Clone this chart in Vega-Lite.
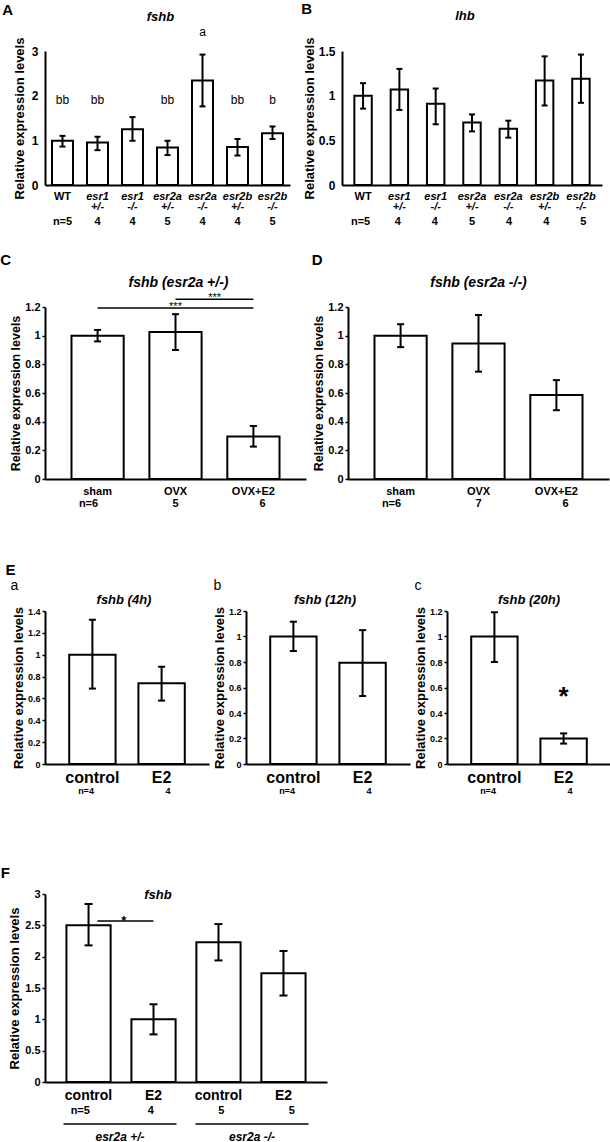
{
"$schema": "https://vega.github.io/schema/vega-lite/v6.json",
"background": "white",
"padding": {"left": 0, "top": 2, "right": 0, "bottom": 0},
"config": {
  "font": "Liberation Sans",
  "view": {"stroke": null},
  "axis": {"grid": false, "domainColor": "black", "domainWidth": 2, "tickColor": "black", "tickWidth": 1.5, "labelColor": "black", "titleColor": "black", "labelFontWeight": "bold", "titleFontWeight": "bold", "labelFont": "Liberation Sans", "titleFont": "Liberation Sans", "labelOverlap": false},
  "axisY": {"labelOverlap": false},
  "axisQuantitative": {"labelOverlap": false},
  "title": {"color": "black", "font": "Liberation Sans"},
  "text": {"color": "black", "fill": "black", "font": "Liberation Sans"}
},
"datasets": {
  "A": [
    {"g": "WT", "mean": 0.99, "lo": 0.86, "hi": 1.10, "n": "n=5", "sig": "bb"},
    {"g": "esr1|+/-", "mean": 0.95, "lo": 0.78, "hi": 1.08, "n": "4", "sig": "bb"},
    {"g": "esr1|-/-", "mean": 1.25, "lo": 0.99, "hi": 1.52, "n": "4", "sig": ""},
    {"g": "esr2a|+/-", "mean": 0.84, "lo": 0.67, "hi": 0.99, "n": "5", "sig": "bb"},
    {"g": "esr2a|-/-", "mean": 2.34, "lo": 1.76, "hi": 2.92, "n": "4", "sig": "a"},
    {"g": "esr2b|+/-", "mean": 0.85, "lo": 0.66, "hi": 1.03, "n": "4", "sig": "bb"},
    {"g": "esr2b|-/-", "mean": 1.16, "lo": 1.03, "hi": 1.31, "n": "5", "sig": "b"}
  ],
  "B": [
    {"g": "WT", "mean": 1.0, "lo": 0.855, "hi": 1.14, "n": "n=5"},
    {"g": "esr1|+/-", "mean": 1.07, "lo": 0.84, "hi": 1.30, "n": "4"},
    {"g": "esr1|-/-", "mean": 0.91, "lo": 0.68, "hi": 1.08, "n": "4"},
    {"g": "esr2a|+/-", "mean": 0.70, "lo": 0.60, "hi": 0.79, "n": "5"},
    {"g": "esr2a|-/-", "mean": 0.63, "lo": 0.53, "hi": 0.72, "n": "4"},
    {"g": "esr2b|+/-", "mean": 1.17, "lo": 0.89, "hi": 1.44, "n": "4"},
    {"g": "esr2b|-/-", "mean": 1.19, "lo": 0.92, "hi": 1.46, "n": "5"}
  ],
  "C": [
    {"g": "sham", "mean": 1.0, "lo": 0.96, "hi": 1.04, "n": "n=6"},
    {"g": "OVX", "mean": 1.026, "lo": 0.90, "hi": 1.15, "n": "5"},
    {"g": "OVX+E2", "mean": 0.296, "lo": 0.226, "hi": 0.37, "n": "6"}
  ],
  "D": [
    {"g": "sham", "mean": 1.0, "lo": 0.92, "hi": 1.08, "n": "n=6"},
    {"g": "OVX", "mean": 0.946, "lo": 0.749, "hi": 1.144, "n": "7"},
    {"g": "OVX+E2", "mean": 0.586, "lo": 0.48, "hi": 0.69, "n": "6"}
  ],
  "Ea": [
    {"g": "control", "mean": 1.0, "lo": 0.69, "hi": 1.32, "n": "n=4"},
    {"g": "E2", "mean": 0.74, "lo": 0.58, "hi": 0.89, "n": "4"}
  ],
  "Eb": [
    {"g": "control", "mean": 1.0, "lo": 0.886, "hi": 1.116, "n": "n=4"},
    {"g": "E2", "mean": 0.794, "lo": 0.533, "hi": 1.05, "n": "4"}
  ],
  "Ec": [
    {"g": "control", "mean": 1.0, "lo": 0.80, "hi": 1.19, "n": "n=4"},
    {"g": "E2", "mean": 0.2, "lo": 0.16, "hi": 0.24, "n": "4"}
  ],
  "F": [
    {"g": "control (+/-)", "mean": 2.50, "lo": 2.18, "hi": 2.84, "n": "n=5"},
    {"g": "E2 (+/-)", "mean": 1.0, "lo": 0.76, "hi": 1.24, "n": "4"},
    {"g": "control (-/-)", "mean": 2.23, "lo": 1.94, "hi": 2.52, "n": "5"},
    {"g": "E2 (-/-)", "mean": 1.735, "lo": 1.38, "hi": 2.09, "n": "5"}
  ],
  "Fgroups": [
    {"grp": "esr2a +/-"},
    {"grp": "esr2a -/-"}
  ]
},
"spacing": 25,
"vconcat": [
  {
    "spacing": 11,
    "hconcat": [
      {
        "title": {"text": "A", "anchor": "start", "frame": "bounds", "fontSize": 15, "fontWeight": "bold", "offset": -7, "dx": -11},
        "bounds": "flush",
        "spacing": 31,
        "vconcat": [
          {
            "width": 245, "height": 134,
            "title": {"text": "fshb", "fontStyle": "italic", "fontWeight": "bold", "fontSize": 13, "frame": "group", "dx": -7, "offset": 2},
            "data": {"name": "A"},
            "encoding": {"x": {"field": "g", "type": "nominal", "sort": null,
              "scale": {"domain": ["WT", "esr1|+/-", "esr1|-/-", "esr2a|+/-", "esr2a|-/-", "esr2b|+/-", "esr2b|-/-"], "paddingInner": 0.4, "paddingOuter": 0.2},
              "axis": {"title": null, "labelAngle": 0, "ticks": false, "labelPadding": 5, "labelFontSize": 11, "labelLineHeight": 10, "labelExpr": "split(datum.value, '|')",
                "labelFontStyle": {"condition": {"test": "datum.value == 'WT'", "value": "normal"}, "value": "italic"}}}},
            "layer": [
              {"mark": {"type": "bar", "fill": "white", "stroke": "black", "strokeWidth": 2},
               "encoding": {"y": {"field": "mean", "type": "quantitative", "scale": {"domain": [0, 3], "nice": false},
                 "axis": {"title": "Relative expression levels", "values": [0, 1, 2, 3], "format": "~g", "labelOverlap": false, "ticks": false, "labelPadding": 7, "labelFontSize": 12, "titleFontSize": 13, "titlePadding": 5}}}},
              {"mark": {"type": "rule", "color": "black", "strokeWidth": 2},
               "encoding": {"y": {"field": "lo", "type": "quantitative", "axis": {"title": "Relative expression levels", "values": [0, 1, 2, 3], "format": "~g", "labelOverlap": false, "ticks": false, "labelPadding": 7, "labelFontSize": 12, "titleFontSize": 13, "titlePadding": 5}}, "y2": {"field": "hi"}}},
              {"mark": {"type": "tick", "orient": "horizontal", "color": "black", "opacity": 1, "thickness": 2, "size": 6},
               "encoding": {"y": {"field": "lo", "type": "quantitative", "axis": {"title": "Relative expression levels", "values": [0, 1, 2, 3], "format": "~g", "labelOverlap": false, "ticks": false, "labelPadding": 7, "labelFontSize": 12, "titleFontSize": 13, "titlePadding": 5}}}},
              {"mark": {"type": "tick", "orient": "horizontal", "color": "black", "opacity": 1, "thickness": 2, "size": 6},
               "encoding": {"y": {"field": "hi", "type": "quantitative", "axis": {"title": "Relative expression levels", "values": [0, 1, 2, 3], "format": "~g", "labelOverlap": false, "ticks": false, "labelPadding": 7, "labelFontSize": 12, "titleFontSize": 13, "titlePadding": 5}}}},
              {"transform": [{"filter": "datum.sig != '' && datum.sig != 'a'"}],
               "mark": {"type": "text", "fontSize": 12, "color": "black"},
               "encoding": {"y": {"datum": 1.91, "axis": {"title": "Relative expression levels", "values": [0, 1, 2, 3], "format": "~g", "labelOverlap": false, "ticks": false, "labelPadding": 7, "labelFontSize": 12, "titleFontSize": 13, "titlePadding": 5}}, "text": {"field": "sig"}}},
              {"transform": [{"filter": "datum.sig == 'a'"}],
               "mark": {"type": "text", "fontSize": 12, "color": "black"},
               "encoding": {"y": {"datum": 3.42, "axis": {"title": "Relative expression levels", "values": [0, 1, 2, 3], "format": "~g", "labelOverlap": false, "ticks": false, "labelPadding": 7, "labelFontSize": 12, "titleFontSize": 13, "titlePadding": 5}}, "text": {"field": "sig"}}}
            ]
          },
          {
            "width": 245, "height": 12,
            "data": {"name": "A"},
            "mark": {"type": "text", "fontSize": 11, "fontWeight": "bold", "color": "black"},
            "encoding": {"x": {"field": "g", "type": "nominal", "sort": null,
              "scale": {"domain": ["WT", "esr1|+/-", "esr1|-/-", "esr2a|+/-", "esr2a|-/-", "esr2b|+/-", "esr2b|-/-"], "paddingInner": 0.4, "paddingOuter": 0.2}, "axis": null},
              "text": {"field": "n"}}
          }
        ]
      },
      {
        "title": {"text": "B", "anchor": "start", "frame": "bounds", "fontSize": 15, "fontWeight": "bold", "offset": -7, "dx": -2},
        "bounds": "flush",
        "spacing": 31,
        "vconcat": [
          {
            "width": 260, "height": 134,
            "title": {"text": "lhb", "fontStyle": "italic", "fontWeight": "bold", "fontSize": 13, "frame": "group", "dx": -7, "offset": 14},
            "data": {"name": "B"},
            "encoding": {"x": {"field": "g", "type": "nominal", "sort": null,
              "scale": {"domain": ["WT", "esr1|+/-", "esr1|-/-", "esr2a|+/-", "esr2a|-/-", "esr2b|+/-", "esr2b|-/-"], "paddingInner": 0.52, "paddingOuter": 0.34},
              "axis": {"title": null, "labelAngle": 0, "ticks": false, "labelPadding": 5, "labelFontSize": 11, "labelLineHeight": 10, "labelExpr": "split(datum.value, '|')",
                "labelFontStyle": {"condition": {"test": "datum.value == 'WT'", "value": "normal"}, "value": "italic"}}}},
            "layer": [
              {"mark": {"type": "bar", "fill": "white", "stroke": "black", "strokeWidth": 2},
               "encoding": {"y": {"field": "mean", "type": "quantitative", "scale": {"domain": [0, 1.5], "nice": false},
                 "axis": {"title": "Relative expression levels", "values": [0, 0.5, 1, 1.5], "format": "~g", "labelOverlap": false, "ticks": false, "labelPadding": 7, "labelFontSize": 12, "titleFontSize": 13, "titlePadding": 2}}}},
              {"mark": {"type": "rule", "color": "black", "strokeWidth": 2},
               "encoding": {"y": {"field": "lo", "type": "quantitative", "axis": {"title": "Relative expression levels", "values": [0, 0.5, 1, 1.5], "format": "~g", "labelOverlap": false, "ticks": false, "labelPadding": 7, "labelFontSize": 12, "titleFontSize": 13, "titlePadding": 2}}, "y2": {"field": "hi"}}},
              {"mark": {"type": "tick", "orient": "horizontal", "color": "black", "opacity": 1, "thickness": 2, "size": 6},
               "encoding": {"y": {"field": "lo", "type": "quantitative", "axis": {"title": "Relative expression levels", "values": [0, 0.5, 1, 1.5], "format": "~g", "labelOverlap": false, "ticks": false, "labelPadding": 7, "labelFontSize": 12, "titleFontSize": 13, "titlePadding": 2}}}},
              {"mark": {"type": "tick", "orient": "horizontal", "color": "black", "opacity": 1, "thickness": 2, "size": 6},
               "encoding": {"y": {"field": "hi", "type": "quantitative", "axis": {"title": "Relative expression levels", "values": [0, 0.5, 1, 1.5], "format": "~g", "labelOverlap": false, "ticks": false, "labelPadding": 7, "labelFontSize": 12, "titleFontSize": 13, "titlePadding": 2}}}}
            ]
          },
          {
            "width": 260, "height": 12,
            "data": {"name": "B"},
            "mark": {"type": "text", "fontSize": 11, "fontWeight": "bold", "color": "black"},
            "encoding": {"x": {"field": "g", "type": "nominal", "sort": null,
              "scale": {"domain": ["WT", "esr1|+/-", "esr1|-/-", "esr2a|+/-", "esr2a|-/-", "esr2b|+/-", "esr2b|-/-"], "paddingInner": 0.52, "paddingOuter": 0.34}, "axis": null},
              "text": {"field": "n"}}
          }
        ]
      }
    ]
  },
  {
    "spacing": 52,
    "vconcat": [
      {
        "spacing": 5,
        "hconcat": [
          {
            "title": {"text": "C", "anchor": "start", "frame": "bounds", "fontSize": 15, "fontWeight": "bold", "offset": 8, "dx": -9.5},
            "bounds": "flush",
            "spacing": 19,
            "vconcat": [
              {
                "width": 261, "height": 172,
                "title": {"text": "fshb  (esr2a +/-)", "fontStyle": "italic", "fontWeight": "bold", "fontSize": 14, "frame": "group", "dx": 3, "offset": 2},
                "data": {"name": "C"},
                "encoding": {"x": {"field": "g", "type": "nominal", "sort": null,
                  "scale": {"domain": ["sham", "OVX", "OVX+E2"], "paddingInner": 0.33, "paddingOuter": 0.34},
                  "axis": {"title": null, "labelAngle": 0, "ticks": false, "labelPadding": 6, "labelFontSize": 11}}},
                "layer": [
                  {"mark": {"type": "bar", "fill": "white", "stroke": "black", "strokeWidth": 2},
                   "encoding": {"y": {"field": "mean", "type": "quantitative", "scale": {"domain": [0, 1.2], "nice": false},
                     "axis": {"title": "Relative expression levels", "values": [0, 0.2, 0.4, 0.6, 0.8, 1, 1.2], "format": "~g", "labelOverlap": false, "tickSize": 3, "labelPadding": 2, "labelFontSize": 11, "titleFontSize": 12.5, "titlePadding": 2}}}},
                  {"mark": {"type": "rule", "color": "black", "strokeWidth": 2},
                   "encoding": {"y": {"field": "lo", "type": "quantitative", "axis": {"title": "Relative expression levels", "values": [0, 0.2, 0.4, 0.6, 0.8, 1, 1.2], "format": "~g", "labelOverlap": false, "tickSize": 3, "labelPadding": 2, "labelFontSize": 11, "titleFontSize": 12.5, "titlePadding": 2}}, "y2": {"field": "hi"}}},
                  {"mark": {"type": "tick", "orient": "horizontal", "color": "black", "opacity": 1, "thickness": 2, "size": 7},
                   "encoding": {"y": {"field": "lo", "type": "quantitative", "axis": {"title": "Relative expression levels", "values": [0, 0.2, 0.4, 0.6, 0.8, 1, 1.2], "format": "~g", "labelOverlap": false, "tickSize": 3, "labelPadding": 2, "labelFontSize": 11, "titleFontSize": 12.5, "titlePadding": 2}}}},
                  {"mark": {"type": "tick", "orient": "horizontal", "color": "black", "opacity": 1, "thickness": 2, "size": 7},
                   "encoding": {"y": {"field": "hi", "type": "quantitative", "axis": {"title": "Relative expression levels", "values": [0, 0.2, 0.4, 0.6, 0.8, 1, 1.2], "format": "~g", "labelOverlap": false, "tickSize": 3, "labelPadding": 2, "labelFontSize": 11, "titleFontSize": 12.5, "titlePadding": 2}}}},
                  {"data": {"values": [{"sig": "***"}]},
                   "mark": {"type": "rule", "color": "black", "strokeWidth": 1.5},
                   "encoding": {"x": {"datum": "sham"}, "x2": {"datum": "OVX+E2"}, "y": {"datum": 1.193, "axis": {"title": "Relative expression levels", "values": [0, 0.2, 0.4, 0.6, 0.8, 1, 1.2], "format": "~g", "labelOverlap": false, "tickSize": 3, "labelPadding": 2, "labelFontSize": 11, "titleFontSize": 12.5, "titlePadding": 2}}}},
                  {"data": {"values": [{"sig": "***"}]},
                   "mark": {"type": "rule", "color": "black", "strokeWidth": 1.5},
                   "encoding": {"x": {"datum": "OVX"}, "x2": {"datum": "OVX+E2"}, "y": {"datum": 1.254, "axis": {"title": "Relative expression levels", "values": [0, 0.2, 0.4, 0.6, 0.8, 1, 1.2], "format": "~g", "labelOverlap": false, "tickSize": 3, "labelPadding": 2, "labelFontSize": 11, "titleFontSize": 12.5, "titlePadding": 2}}}},
                  {"data": {"values": [{"sig": "***"}]},
                   "mark": {"type": "text", "fontSize": 11, "baseline": "alphabetic", "dy": 2, "color": "black"},
                   "encoding": {"x": {"datum": "OVX"}, "y": {"datum": 1.193, "axis": {"title": "Relative expression levels", "values": [0, 0.2, 0.4, 0.6, 0.8, 1, 1.2], "format": "~g", "labelOverlap": false, "tickSize": 3, "labelPadding": 2, "labelFontSize": 11, "titleFontSize": 12.5, "titlePadding": 2}}, "text": {"field": "sig"}}},
                  {"data": {"values": [{"sig": "***"}]},
                   "mark": {"type": "text", "fontSize": 11, "baseline": "alphabetic", "dy": 2, "color": "black"},
                   "encoding": {"x": {"datum": "OVX", "bandPosition": 1.25}, "y": {"datum": 1.254, "axis": {"title": "Relative expression levels", "values": [0, 0.2, 0.4, 0.6, 0.8, 1, 1.2], "format": "~g", "labelOverlap": false, "tickSize": 3, "labelPadding": 2, "labelFontSize": 11, "titleFontSize": 12.5, "titlePadding": 2}}, "text": {"field": "sig"}}}
                ]
              },
              {
                "width": 261, "height": 12,
                "data": {"name": "C"},
                "mark": {"type": "text", "fontSize": 11, "fontWeight": "bold", "color": "black"},
                "encoding": {"x": {"field": "g", "type": "nominal", "sort": null,
                  "scale": {"domain": ["sham", "OVX", "OVX+E2"], "paddingInner": 0.33, "paddingOuter": 0.34}, "axis": null},
                  "text": {"field": "n"}}
              }
            ]
          },
          {
            "title": {"text": "D", "anchor": "start", "frame": "bounds", "fontSize": 15, "fontWeight": "bold", "offset": 8, "dx": -1},
            "bounds": "flush",
            "spacing": 19,
            "vconcat": [
              {
                "width": 261, "height": 172,
                "title": {"text": "fshb   (esr2a -/-)", "fontStyle": "italic", "fontWeight": "bold", "fontSize": 14, "frame": "group", "offset": 11},
                "data": {"name": "D"},
                "encoding": {"x": {"field": "g", "type": "nominal", "sort": null,
                  "scale": {"domain": ["sham", "OVX", "OVX+E2"], "paddingInner": 0.33, "paddingOuter": 0.34},
                  "axis": {"title": null, "labelAngle": 0, "ticks": false, "labelPadding": 6, "labelFontSize": 11}}},
                "layer": [
                  {"mark": {"type": "bar", "fill": "white", "stroke": "black", "strokeWidth": 2},
                   "encoding": {"y": {"field": "mean", "type": "quantitative", "scale": {"domain": [0, 1.2], "nice": false},
                     "axis": {"title": "Relative expression levels", "values": [0, 0.2, 0.4, 0.6, 0.8, 1, 1.2], "format": "~g", "labelOverlap": false, "tickSize": 3, "labelPadding": 2, "labelFontSize": 11, "titleFontSize": 12.5, "titlePadding": 2}}}},
                  {"mark": {"type": "rule", "color": "black", "strokeWidth": 2},
                   "encoding": {"y": {"field": "lo", "type": "quantitative", "axis": {"title": "Relative expression levels", "values": [0, 0.2, 0.4, 0.6, 0.8, 1, 1.2], "format": "~g", "labelOverlap": false, "tickSize": 3, "labelPadding": 2, "labelFontSize": 11, "titleFontSize": 12.5, "titlePadding": 2}}, "y2": {"field": "hi"}}},
                  {"mark": {"type": "tick", "orient": "horizontal", "color": "black", "opacity": 1, "thickness": 2, "size": 7},
                   "encoding": {"y": {"field": "lo", "type": "quantitative", "axis": {"title": "Relative expression levels", "values": [0, 0.2, 0.4, 0.6, 0.8, 1, 1.2], "format": "~g", "labelOverlap": false, "tickSize": 3, "labelPadding": 2, "labelFontSize": 11, "titleFontSize": 12.5, "titlePadding": 2}}}},
                  {"mark": {"type": "tick", "orient": "horizontal", "color": "black", "opacity": 1, "thickness": 2, "size": 7},
                   "encoding": {"y": {"field": "hi", "type": "quantitative", "axis": {"title": "Relative expression levels", "values": [0, 0.2, 0.4, 0.6, 0.8, 1, 1.2], "format": "~g", "labelOverlap": false, "tickSize": 3, "labelPadding": 2, "labelFontSize": 11, "titleFontSize": 12.5, "titlePadding": 2}}}}
                ]
              },
              {
                "width": 261, "height": 12,
                "data": {"name": "D"},
                "mark": {"type": "text", "fontSize": 11, "fontWeight": "bold", "color": "black"},
                "encoding": {"x": {"field": "g", "type": "nominal", "sort": null,
                  "scale": {"domain": ["sham", "OVX", "OVX+E2"], "paddingInner": 0.33, "paddingOuter": 0.34}, "axis": null},
                  "text": {"field": "n"}}
              }
            ]
          }
        ]
      },
      {
        "spacing": 69,
        "vconcat": [
          {
            "title": {"text": "E", "anchor": "start", "frame": "bounds", "fontSize": 15, "fontWeight": "bold", "offset": 1, "dx": -5},
            "spacing": 4,
            "hconcat": [
              {
                "title": {"text": "a", "anchor": "start", "frame": "bounds", "fontSize": 14, "fontWeight": "normal", "offset": 1, "dx": -2},
                "bounds": "flush",
                "spacing": 21,
                "vconcat": [
                  {
                    "width": 164, "height": 153,
                    "title": {"text": "fshb (4h)", "fontStyle": "italic", "fontWeight": "bold", "fontSize": 13, "frame": "group", "dx": -3, "offset": 0},
                    "data": {"name": "Ea"},
                    "encoding": {"x": {"field": "g", "type": "nominal", "sort": null,
                      "scale": {"domain": ["control", "E2"], "paddingInner": 0.33, "paddingOuter": 0.35},
                      "axis": {"title": null, "labelAngle": 0, "ticks": false, "labelPadding": 5, "labelFontSize": 16}}},
                    "layer": [
                      {"mark": {"type": "bar", "fill": "white", "stroke": "black", "strokeWidth": 2},
                       "encoding": {"y": {"field": "mean", "type": "quantitative", "scale": {"domain": [0, 1.4], "nice": false},
                         "axis": {"title": "Relative expression levels", "values": [0, 0.2, 0.4, 0.6, 0.8, 1, 1.2, 1.4], "format": "~g", "labelOverlap": false, "tickSize": 3, "labelPadding": 2, "labelFontSize": 9, "titleFontSize": 13, "titlePadding": 2}}}},
                      {"mark": {"type": "rule", "color": "black", "strokeWidth": 2},
                       "encoding": {"y": {"field": "lo", "type": "quantitative", "axis": {"title": "Relative expression levels", "values": [0, 0.2, 0.4, 0.6, 0.8, 1, 1.2, 1.4], "format": "~g", "labelOverlap": false, "tickSize": 3, "labelPadding": 2, "labelFontSize": 9, "titleFontSize": 13, "titlePadding": 2}}, "y2": {"field": "hi"}}},
                      {"mark": {"type": "tick", "orient": "horizontal", "color": "black", "opacity": 1, "thickness": 2, "size": 7},
                       "encoding": {"y": {"field": "lo", "type": "quantitative", "axis": {"title": "Relative expression levels", "values": [0, 0.2, 0.4, 0.6, 0.8, 1, 1.2, 1.4], "format": "~g", "labelOverlap": false, "tickSize": 3, "labelPadding": 2, "labelFontSize": 9, "titleFontSize": 13, "titlePadding": 2}}}},
                      {"mark": {"type": "tick", "orient": "horizontal", "color": "black", "opacity": 1, "thickness": 2, "size": 7},
                       "encoding": {"y": {"field": "hi", "type": "quantitative", "axis": {"title": "Relative expression levels", "values": [0, 0.2, 0.4, 0.6, 0.8, 1, 1.2, 1.4], "format": "~g", "labelOverlap": false, "tickSize": 3, "labelPadding": 2, "labelFontSize": 9, "titleFontSize": 13, "titlePadding": 2}}}}
                    ]
                  },
                  {
                    "width": 164, "height": 12,
                    "data": {"name": "Ea"},
                    "mark": {"type": "text", "fontSize": 9, "fontWeight": "bold", "color": "black"},
                    "encoding": {"x": {"field": "g", "type": "nominal", "sort": null,
                      "scale": {"domain": ["control", "E2"], "paddingInner": 0.33, "paddingOuter": 0.35}, "axis": null},
                      "text": {"field": "n"}}
                  }
                ]
              },
              {
                "title": {"text": "b", "anchor": "start", "frame": "bounds", "fontSize": 14, "fontWeight": "normal", "offset": 1},
                "bounds": "flush",
                "spacing": 21,
                "vconcat": [
                  {
                    "width": 164, "height": 153,
                    "title": {"text": "fshb (12h)", "fontStyle": "italic", "fontWeight": "bold", "fontSize": 13, "frame": "group", "dx": -3, "offset": 0},
                    "data": {"name": "Eb"},
                    "encoding": {"x": {"field": "g", "type": "nominal", "sort": null,
                      "scale": {"domain": ["control", "E2"], "paddingInner": 0.33, "paddingOuter": 0.35},
                      "axis": {"title": null, "labelAngle": 0, "ticks": false, "labelPadding": 5, "labelFontSize": 16}}},
                    "layer": [
                      {"mark": {"type": "bar", "fill": "white", "stroke": "black", "strokeWidth": 2},
                       "encoding": {"y": {"field": "mean", "type": "quantitative", "scale": {"domain": [0, 1.2], "nice": false},
                         "axis": {"title": "Relative expression levels", "values": [0, 0.2, 0.4, 0.6, 0.8, 1, 1.2], "format": "~g", "labelOverlap": false, "tickSize": 3, "labelPadding": 2, "labelFontSize": 9, "titleFontSize": 13, "titlePadding": 2}}}},
                      {"mark": {"type": "rule", "color": "black", "strokeWidth": 2},
                       "encoding": {"y": {"field": "lo", "type": "quantitative", "axis": {"title": "Relative expression levels", "values": [0, 0.2, 0.4, 0.6, 0.8, 1, 1.2], "format": "~g", "labelOverlap": false, "tickSize": 3, "labelPadding": 2, "labelFontSize": 9, "titleFontSize": 13, "titlePadding": 2}}, "y2": {"field": "hi"}}},
                      {"mark": {"type": "tick", "orient": "horizontal", "color": "black", "opacity": 1, "thickness": 2, "size": 7},
                       "encoding": {"y": {"field": "lo", "type": "quantitative", "axis": {"title": "Relative expression levels", "values": [0, 0.2, 0.4, 0.6, 0.8, 1, 1.2], "format": "~g", "labelOverlap": false, "tickSize": 3, "labelPadding": 2, "labelFontSize": 9, "titleFontSize": 13, "titlePadding": 2}}}},
                      {"mark": {"type": "tick", "orient": "horizontal", "color": "black", "opacity": 1, "thickness": 2, "size": 7},
                       "encoding": {"y": {"field": "hi", "type": "quantitative", "axis": {"title": "Relative expression levels", "values": [0, 0.2, 0.4, 0.6, 0.8, 1, 1.2], "format": "~g", "labelOverlap": false, "tickSize": 3, "labelPadding": 2, "labelFontSize": 9, "titleFontSize": 13, "titlePadding": 2}}}}
                    ]
                  },
                  {
                    "width": 164, "height": 12,
                    "data": {"name": "Eb"},
                    "mark": {"type": "text", "fontSize": 9, "fontWeight": "bold", "color": "black"},
                    "encoding": {"x": {"field": "g", "type": "nominal", "sort": null,
                      "scale": {"domain": ["control", "E2"], "paddingInner": 0.33, "paddingOuter": 0.35}, "axis": null},
                      "text": {"field": "n"}}
                  }
                ]
              },
              {
                "title": {"text": "c", "anchor": "start", "frame": "bounds", "fontSize": 14, "fontWeight": "normal", "offset": 1},
                "bounds": "flush",
                "spacing": 21,
                "vconcat": [
                  {
                    "width": 164, "height": 153,
                    "title": {"text": "fshb (20h)", "fontStyle": "italic", "fontWeight": "bold", "fontSize": 13, "frame": "group", "offset": 0},
                    "data": {"name": "Ec"},
                    "encoding": {"x": {"field": "g", "type": "nominal", "sort": null,
                      "scale": {"domain": ["control", "E2"], "paddingInner": 0.33, "paddingOuter": 0.35},
                      "axis": {"title": null, "labelAngle": 0, "ticks": false, "labelPadding": 5, "labelFontSize": 16}}},
                    "layer": [
                      {"mark": {"type": "bar", "fill": "white", "stroke": "black", "strokeWidth": 2},
                       "encoding": {"y": {"field": "mean", "type": "quantitative", "scale": {"domain": [0, 1.2], "nice": false},
                         "axis": {"title": "Relative expression levels", "values": [0, 0.2, 0.4, 0.6, 0.8, 1, 1.2], "format": "~g", "labelOverlap": false, "tickSize": 3, "labelPadding": 2, "labelFontSize": 9, "titleFontSize": 13, "titlePadding": 2}}}},
                      {"mark": {"type": "rule", "color": "black", "strokeWidth": 2},
                       "encoding": {"y": {"field": "lo", "type": "quantitative", "axis": {"title": "Relative expression levels", "values": [0, 0.2, 0.4, 0.6, 0.8, 1, 1.2], "format": "~g", "labelOverlap": false, "tickSize": 3, "labelPadding": 2, "labelFontSize": 9, "titleFontSize": 13, "titlePadding": 2}}, "y2": {"field": "hi"}}},
                      {"mark": {"type": "tick", "orient": "horizontal", "color": "black", "opacity": 1, "thickness": 2, "size": 7},
                       "encoding": {"y": {"field": "lo", "type": "quantitative", "axis": {"title": "Relative expression levels", "values": [0, 0.2, 0.4, 0.6, 0.8, 1, 1.2], "format": "~g", "labelOverlap": false, "tickSize": 3, "labelPadding": 2, "labelFontSize": 9, "titleFontSize": 13, "titlePadding": 2}}}},
                      {"mark": {"type": "tick", "orient": "horizontal", "color": "black", "opacity": 1, "thickness": 2, "size": 7},
                       "encoding": {"y": {"field": "hi", "type": "quantitative", "axis": {"title": "Relative expression levels", "values": [0, 0.2, 0.4, 0.6, 0.8, 1, 1.2], "format": "~g", "labelOverlap": false, "tickSize": 3, "labelPadding": 2, "labelFontSize": 9, "titleFontSize": 13, "titlePadding": 2}}}},
                      {"data": {"values": [{"sig": "*"}]},
                       "mark": {"type": "text", "fontSize": 26, "fontWeight": "bold", "color": "black"},
                       "encoding": {"x": {"datum": "E2"}, "y": {"datum": 0.525, "axis": {"title": "Relative expression levels", "values": [0, 0.2, 0.4, 0.6, 0.8, 1, 1.2], "format": "~g", "labelOverlap": false, "tickSize": 3, "labelPadding": 2, "labelFontSize": 9, "titleFontSize": 13, "titlePadding": 2}}, "text": {"field": "sig"}}}
                    ]
                  },
                  {
                    "width": 164, "height": 12,
                    "data": {"name": "Ec"},
                    "mark": {"type": "text", "fontSize": 9, "fontWeight": "bold", "color": "black"},
                    "encoding": {"x": {"field": "g", "type": "nominal", "sort": null,
                      "scale": {"domain": ["control", "E2"], "paddingInner": 0.33, "paddingOuter": 0.35}, "axis": null},
                      "text": {"field": "n"}}
                  }
                ]
              }
            ]
          },
          {
            "title": {"text": "F", "anchor": "start", "frame": "bounds", "fontSize": 15, "fontWeight": "bold", "offset": 7, "dx": -8},
            "bounds": "flush",
            "spacing": 22.5,
            "vconcat": [
              {
                "width": 282, "height": 188,
                "title": {"text": "fshb", "fontStyle": "italic", "fontWeight": "bold", "fontSize": 13, "frame": "group", "dx": -28, "offset": -14},
                "data": {"name": "F"},
                "encoding": {"x": {"field": "g", "type": "nominal", "sort": null,
                  "scale": {"domain": ["control (+/-)", "E2 (+/-)", "control (-/-)", "E2 (-/-)"], "paddingInner": 0.32, "paddingOuter": 0.33},
                  "axis": {"title": null, "labelAngle": 0, "ticks": false, "labelPadding": 6, "labelFontSize": 14, "labelExpr": "split(datum.value, ' ')[0]"}}},
                "layer": [
                  {"mark": {"type": "bar", "fill": "white", "stroke": "black", "strokeWidth": 2},
                   "encoding": {"y": {"field": "mean", "type": "quantitative", "scale": {"domain": [0, 3], "nice": false},
                     "axis": {"title": "Relative expression levels", "values": [0, 0.5, 1, 1.5, 2, 2.5, 3], "format": "~g", "labelOverlap": false, "tickSize": 3, "labelPadding": 2, "labelFontSize": 11, "titleFontSize": 13, "titlePadding": 3}}}},
                  {"mark": {"type": "rule", "color": "black", "strokeWidth": 2},
                   "encoding": {"y": {"field": "lo", "type": "quantitative", "axis": {"title": "Relative expression levels", "values": [0, 0.5, 1, 1.5, 2, 2.5, 3], "format": "~g", "labelOverlap": false, "tickSize": 3, "labelPadding": 2, "labelFontSize": 11, "titleFontSize": 13, "titlePadding": 3}}, "y2": {"field": "hi"}}},
                  {"mark": {"type": "tick", "orient": "horizontal", "color": "black", "opacity": 1, "thickness": 2, "size": 8},
                   "encoding": {"y": {"field": "lo", "type": "quantitative", "axis": {"title": "Relative expression levels", "values": [0, 0.5, 1, 1.5, 2, 2.5, 3], "format": "~g", "labelOverlap": false, "tickSize": 3, "labelPadding": 2, "labelFontSize": 11, "titleFontSize": 13, "titlePadding": 3}}}},
                  {"mark": {"type": "tick", "orient": "horizontal", "color": "black", "opacity": 1, "thickness": 2, "size": 8},
                   "encoding": {"y": {"field": "hi", "type": "quantitative", "axis": {"title": "Relative expression levels", "values": [0, 0.5, 1, 1.5, 2, 2.5, 3], "format": "~g", "labelOverlap": false, "tickSize": 3, "labelPadding": 2, "labelFontSize": 11, "titleFontSize": 13, "titlePadding": 3}}}},
                  {"data": {"values": [{"sig": "*"}]},
                   "mark": {"type": "rule", "color": "black", "strokeWidth": 1.5},
                   "encoding": {"x": {"datum": "control (+/-)", "bandPosition": 0.7}, "x2": {"datum": "E2 (+/-)"}, "y": {"datum": 2.57, "axis": {"title": "Relative expression levels", "values": [0, 0.5, 1, 1.5, 2, 2.5, 3], "format": "~g", "labelOverlap": false, "tickSize": 3, "labelPadding": 2, "labelFontSize": 11, "titleFontSize": 13, "titlePadding": 3}}}},
                  {"data": {"values": [{"sig": "*"}]},
                   "mark": {"type": "text", "fontSize": 13, "fontWeight": "bold", "baseline": "alphabetic", "dy": 4, "color": "black"},
                   "encoding": {"x": {"datum": "control (+/-)", "bandPosition": 1.3}, "y": {"datum": 2.57, "axis": {"title": "Relative expression levels", "values": [0, 0.5, 1, 1.5, 2, 2.5, 3], "format": "~g", "labelOverlap": false, "tickSize": 3, "labelPadding": 2, "labelFontSize": 11, "titleFontSize": 13, "titlePadding": 3}}, "text": {"field": "sig"}}}
                ]
              },
              {
                "width": 282, "height": 26,
                "layer": [
                  {"data": {"name": "F"},
                   "mark": {"type": "text", "fontSize": 11, "fontWeight": "bold", "color": "black"},
                   "encoding": {
                     "x": {"field": "g", "type": "nominal", "sort": null,
                       "scale": {"domain": ["control (+/-)", "E2 (+/-)", "control (-/-)", "E2 (-/-)"], "paddingInner": 0.32, "paddingOuter": 0.33}, "axis": null},
                     "y": {"datum": "n", "type": "nominal", "scale": {"type": "point", "domain": ["n", "line"], "padding": 0.5}, "axis": null},
                     "text": {"field": "n"}}},
                  {"data": {"name": "Fgroups"},
                   "mark": {"type": "tick", "orient": "horizontal", "color": "black", "opacity": 1, "thickness": 1.5, "size": 113},
                   "encoding": {
                     "x": {"field": "grp", "type": "nominal", "sort": null,
                       "scale": {"domain": ["esr2a +/-", "esr2a -/-"], "paddingInner": 0, "paddingOuter": 0.068},
                       "axis": {"orient": "bottom", "title": null, "domain": false, "ticks": false, "labelAngle": 0, "labelPadding": 1, "labelFontSize": 12, "labelFontStyle": "italic"}},
                     "y": {"datum": "line", "type": "nominal", "scale": {"type": "point", "domain": ["n", "line"], "padding": 0.5}, "axis": null}}}
                ],
                "resolve": {"scale": {"x": "independent"}, "axis": {"x": "independent"}}
              }
            ]
          }
        ]
      }
    ]
  }
]
}
